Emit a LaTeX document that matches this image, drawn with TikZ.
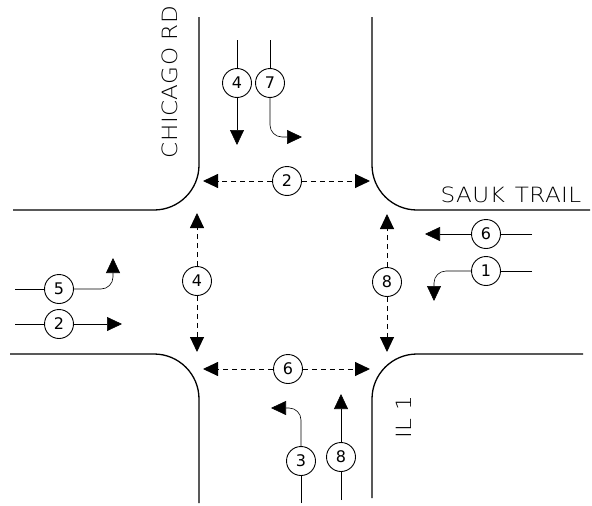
\documentclass[tikz,border=0pt]{standalone}
\usepackage{fontspec}
\setmainfont{DejaVu Sans}
\newfontfamily\cadfont{DejaVu Sans ExtraLight}[FakeStretch=1.1,LetterSpace=2]
\usetikzlibrary{arrows.meta}
\tikzset{
  curb/.style={line width=1.3pt, rounded corners=45pt},
  mv/.style={circle, draw, line width=0.9pt, fill=white, inner sep=0pt,
    minimum size=29pt, font=\fontsize{16}{16}\selectfont},
  flow/.style={line width=0.6pt},
  tip/.style={-{Triangle[length=15pt,width=14pt]}},
  walk/.style={line width=0.9pt, dash pattern=on 5pt off 4pt,
    -{Triangle[length=15pt,width=14pt]}},
  street/.style={font=\cadfont\fontsize{21}{21}\selectfont, inner sep=0pt},
}
\begin{document}
\begin{tikzpicture}[x=1pt, y=-1pt]
    \useasboundingbox (0,0) rectangle (592,506);

    % Curb lines
    \draw[curb] (199,17) |- (13,210);
    \draw[curb] (372,17) |- (590,210);
    \draw[curb] (10,354) -| (199,503);
    \draw[curb] (583,354) -| (372,498);

    % Street names
    \node[street, rotate=90] (chicago) at (170,82) {CHICAGO RD};
    \node[street] (sauk) at (511,195) {SAUK\hspace{10pt}TRAIL};
    \node[street, rotate=90] (il) at (404,417) {IL 1};

    % Through movements
    \foreach \m/\d/\sx/\sy/\cx/\cy/\ex/\ey in {
        sbt/4/237/40/237/83/237/145,
        ebt/2/15/324/59/324/122/324,
        wbt/6/532/234/486/234/425/234,
        nbt/8/341/500/341/457/341/394}{
        \coordinate (s\m) at (\sx,\sy);
        \node[mv] (n\m) at (\cx,\cy) {\d};
        \coordinate (e\m) at (\ex,\ey);
        \draw[flow] (s\m) -- (n\m);
        \draw[flow, tip] (n\m) -- (e\m);
    }

    % Left turns, leaving vertically
    \foreach \m/\d/\sx/\sy/\cx/\cy/\ex/\ey in {
        sbl/7/270/40/270/83/302/137,
        nbl/3/301/503/301/461/271/408}{
        \coordinate (s\m) at (\sx,\sy);
        \node[mv] (n\m) at (\cx,\cy) {\d};
        \coordinate (e\m) at (\ex,\ey);
        \draw[flow] (s\m) -- (n\m);
        \draw[flow, tip, rounded corners=12pt] (n\m) |- (e\m);
    }

    % Left turns, leaving horizontally
    \foreach \m/\d/\sx/\sy/\cx/\cy/\ex/\ey in {
        ebl/5/15/289/59/289/113/258,
        wbl/1/532/271/486/271/434/301}{
        \coordinate (s\m) at (\sx,\sy);
        \node[mv] (n\m) at (\cx,\cy) {\d};
        \coordinate (e\m) at (\ex,\ey);
        \draw[flow] (s\m) -- (n\m);
        \draw[flow, tip, rounded corners=12pt] (n\m) -| (e\m);
    }

    % Pedestrian crossings
    \foreach \m/\d/\cx/\cy/\ax/\ay/\bx/\by in {
        pn/2/287/181/203/181/370/181,
        pw/4/197/281/197/213/197/352,
        pe/8/387/282/387/214/387/352,
        ps/6/288/369/203/369/370/369}{
        \node[mv] (n\m) at (\cx,\cy) {\d};
        \coordinate (a\m) at (\ax,\ay);
        \coordinate (b\m) at (\bx,\by);
        \draw[walk] (n\m) -- (a\m);
        \draw[walk] (n\m) -- (b\m);
    }
\end{tikzpicture}
\end{document}
